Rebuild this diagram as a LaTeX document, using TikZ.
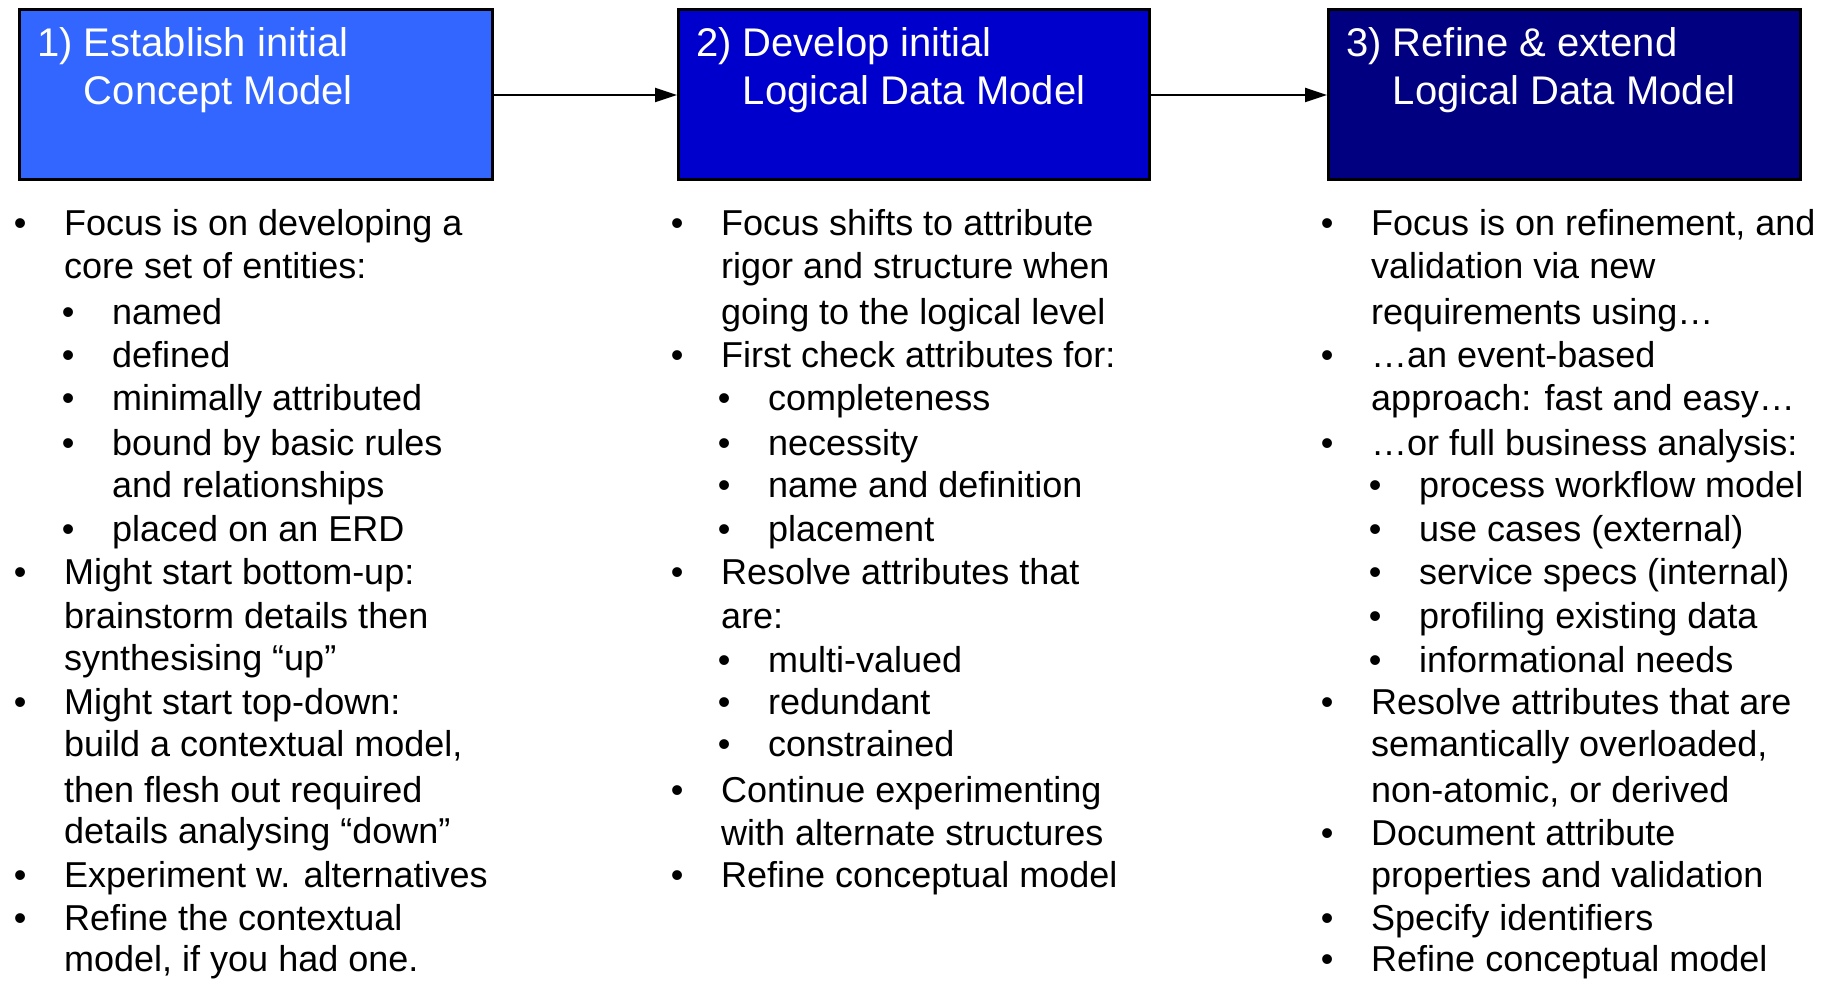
\documentclass[tikz,border=0pt]{standalone}
\usepackage{fontspec}
\setmainfont{Liberation Sans}
\usetikzlibrary{arrows.meta}
\definecolor{cA}{HTML}{3366FF}
\definecolor{cB}{HTML}{0000CC}
\definecolor{cC}{HTML}{000080}
\newcommand\Bul[4]{\node[txt] (#1) at (#2,#3) {\llap{•\hspace{37.7pt}}#4};}
\newcommand\Pln[4]{\node[txt] (#1) at (#2,#3) {#4};}
\begin{document}
\begin{tikzpicture}[x=1pt,y=-1pt,
 phasebox/.style={draw=black,line width=3pt,minimum width=471pt,minimum height=170pt,anchor=north west,inner sep=0pt},
 ttl/.style={anchor=base west,inner sep=0pt,text=white,font=\fontsize{40}{48}\selectfont},
 txt/.style={anchor=base west,inner sep=0pt,font=\fontsize{36}{43}\selectfont},
 arr/.style={line width=2.3pt,-{Triangle[length=22pt,width=14pt]}}]
\useasboundingbox (0,0) rectangle (1830,981);
% boxes
\node[phasebox,fill=cA,minimum width=473pt] (b1) at (17.5,8.5) {};
\node[phasebox,fill=cB,minimum width=470.5pt] (b2) at (677,8.5) {};
\node[phasebox,fill=cC,minimum width=471.7pt] (b3) at (1327,8.5) {};
\node[ttl] (t1a) at (37,57) {1) Establish initial};
\node[ttl] (t1b) at (83.7,105) {Concept Model};
\node[ttl] (t2a) at (696,57) {2) Develop initial};
\node[ttl] (t2b) at (742.7,105) {Logical Data Model};
\node[ttl] (t3a) at (1346,57) {3) Refine \& extend};
\node[ttl] (t3b) at (1392.7,105) {Logical Data Model};
\draw[arr] (b1.east) -- (b2.west);
\draw[arr] (b2.east) -- (b3.west);
% column 1
\Bul{a1}{64}{236}{Focus is on developing a}
\Pln{a2}{64}{279}{core set of entities:}
\Bul{a3}{112}{325}{named}
\Bul{a4}{112}{367}{defined}
\Bul{a5}{112}{410}{minimally attributed}
\Bul{a6}{112}{455}{bound by basic rules}
\Pln{a7}{112}{497}{and relationships}
\Bul{a8}{112}{541}{placed on an ERD}
\Bul{a9}{64}{584}{Might start bottom-up:}
\Pln{a10}{64}{628}{brainstorm details then}
\Pln{a11}{64}{670}{synthesising “up”}
\Bul{a12}{64}{714}{Might start top-down:}
\Pln{a13}{64}{756}{build a contextual model,}
\Pln{a14}{64}{802}{then flesh out required}
\Pln{a15}{64}{843}{details analysing “down”}
\Bul{a16}{64}{887}{Experiment w. alternatives}
\Bul{a17}{64}{930}{Refine the contextual}
\Pln{a18}{64}{971}{model, if you had one.}
% column 2
\Bul{m1}{721}{236}{Focus shifts to attribute}
\Pln{m2}{721}{279}{rigor and structure when}
\Pln{m3}{721}{325}{going to the logical level}
\Bul{m4}{721}{367}{First check attributes for:}
\Bul{m5}{768}{410}{completeness}
\Bul{m6}{768}{455}{necessity}
\Bul{m7}{768}{497}{name and definition}
\Bul{m8}{768}{541}{placement}
\Bul{m9}{721}{584}{Resolve attributes that}
\Pln{m10}{721}{628}{are:}
\Bul{m11}{768}{672}{multi-valued}
\Bul{m12}{768}{714}{redundant}
\Bul{m13}{768}{756}{constrained}
\Bul{m14}{721}{802}{Continue experimenting}
\Pln{m15}{721}{845}{with alternate structures}
\Bul{m16}{721}{887}{Refine conceptual model}
% column 3
\Bul{r1}{1371}{236}{Focus is on refinement, and}
\Pln{r2}{1371}{279}{validation via new}
\Pln{r3}{1371}{325}{requirements using…}
\Bul{r4}{1371}{367}{…an event-based}
\Pln{r5}{1371}{410}{approach: fast and easy…}
\Bul{r6}{1371}{455}{…or full business analysis:}
\Bul{r7}{1419}{497}{process workflow model}
\Bul{r8}{1419}{541}{use cases (external)}
\Bul{r9}{1419}{584}{service specs (internal)}
\Bul{r10}{1419}{628}{profiling existing data}
\Bul{r11}{1419}{672}{informational needs}
\Bul{r12}{1371}{714}{Resolve attributes that are}
\Pln{r13}{1371}{756}{semantically overloaded,}
\Pln{r14}{1371}{802}{non-atomic, or derived}
\Bul{r15}{1371}{845}{Document attribute}
\Pln{r16}{1371}{887}{properties and validation}
\Bul{r17}{1371}{930}{Specify identifiers}
\Bul{r18}{1371}{971}{Refine conceptual model}
\end{tikzpicture}
\end{document}
